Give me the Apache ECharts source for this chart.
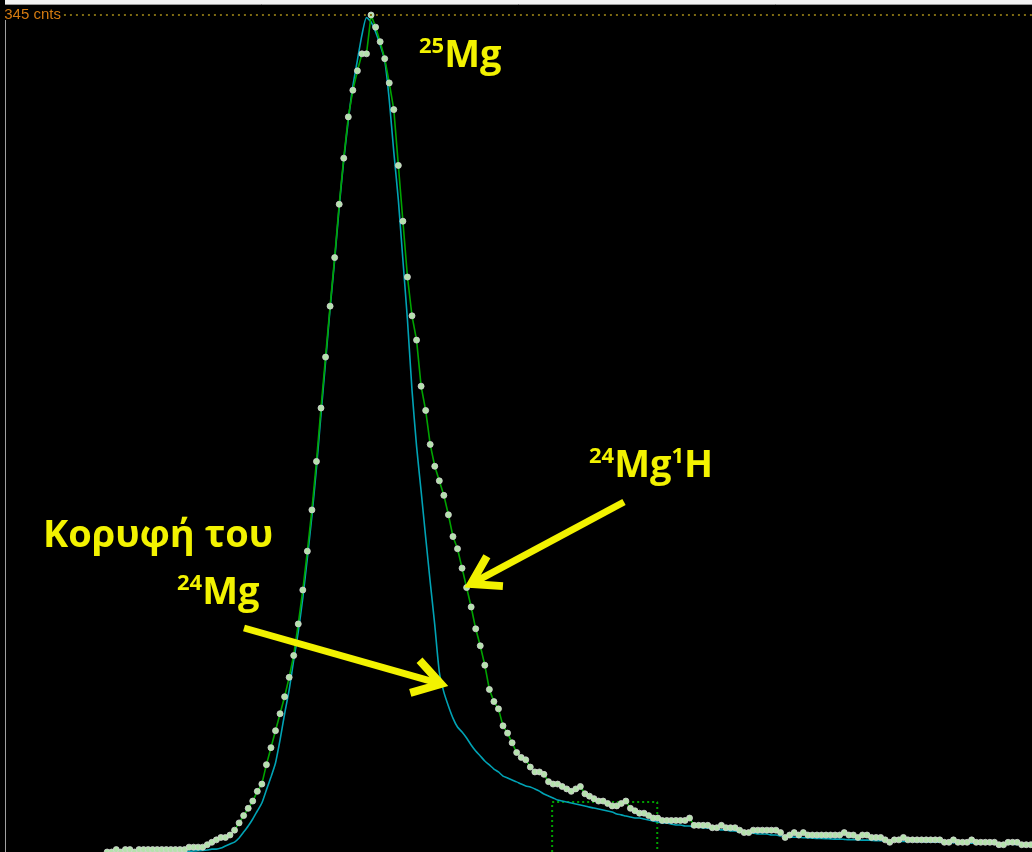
<!DOCTYPE html>
<html>
<head>
<meta charset="utf-8">
<script src="https://cdn.jsdelivr.net/npm/echarts@6/dist/echarts.min.js"></script>
<style>
  html, body { margin: 0; padding: 0; background: #000; }
  #chart { width: 1032px; height: 852px; }
</style>
</head>
<body>
<div id="chart"></div>
<script>
// Mass-spectrum scan around m/z 25: channel number on x, counts on y.

// 25Mg + 24Mg1H trace (measured points), first channel and counts per channel
const hydrideFirstChannel = 23;
const hydrideCounts = [
  0, 0, 1, 0, 1, 1, 0, 1, 1, 1, 1, 1, 1, 1, 1, 1, 1, 1,
  2, 2, 2, 2, 3, 4, 5, 6, 6, 7,
  9, 12, 15, 18, 21, 25, 28, 36, 43, 50,
  57, 64, 72, 81, 94, 108, 124, 141, 161, 183,
  204, 225, 245, 267, 286, 303, 314, 322, 329, 329,
  345, 340, 334, 327, 317, 306, 283, 260, 237, 221,
  211, 192, 182, 168, 159, 153, 147, 139, 130, 125,
  117, 109, 101, 92, 85, 77, 67, 62, 59, 52,
  49, 45, 41, 39, 38, 35, 33, 33, 32, 29,
  28, 28, 27, 26, 25, 26, 27, 24, 23, 22,
  21, 21, 20, 19, 19, 20, 21, 18, 17, 16,
  16, 15, 14, 14, 13, 13, 13, 13, 13, 13,
  14, 11, 11, 11, 11, 10, 10, 11, 10, 10,
  10, 9, 8, 8, 9, 9, 9, 9, 9, 9,
  8, 6, 7, 8, 7, 8, 7, 7, 7, 7,
  7, 7, 7, 7, 8, 7, 7, 6, 7, 7,
  6, 6, 6, 5, 4, 5, 5, 6, 5, 5,
  5, 5, 5, 5, 5, 5, 4, 4, 5, 4,
  4, 4, 5, 4, 4, 4, 4, 4, 3, 3,
  4, 4, 4, 3, 3, 3
];

// 24Mg reference peak shape (continuous trace)
const mg24FirstChannel = 38;
const mg24Counts = [
  0, 0.1, 0.2, 0.3, 0.4, 0.5, 0.6,
  0.8, 1.2, 1.2, 1.6, 2.5, 3.3,
  4.1, 5.8, 8.2, 10.7, 13.6, 16.9, 20.2, 25.6, 30.9, 36.7,
  46.2, 56.9, 66.8, 79.1, 90.7, 104.7, 121.2, 138.5, 158.3, 180.5,
  202.0, 224.2, 244.0, 265.9, 285.2, 301.7, 315.7, 326.4, 336.8, 344,
  342.1, 338.0, 332.6, 326.4, 310.0, 288.5, 268.7, 244.0, 219.3, 190.4,
  167.3, 148.8, 129.8, 111.3, 93.6, 74.2, 65.9, 60.2, 55.2, 51.5,
  49.5, 47.0, 44.1, 41.6, 39.6, 37.5, 35.9, 34.2, 33.0, 31.3,
  30.5, 29.7, 28.9, 28.0, 27.2, 26.8, 26.0, 25.1, 23.9, 23.1,
  22.3, 21.4, 21.0, 20.6, 20.2, 19.8, 19.4, 19.0, 18.5, 18.1,
  17.7, 17.3, 16.9, 16.5, 15.7, 15.3, 14.8, 14.4, 14.0, 14.0,
  13.6, 13.2, 12.8, 12.4, 12.0, 12.0, 11.5, 11.1, 11.1, 10.7,
  10.7, 10.3, 10.3, 9.9, 9.9, 9.5, 9.5, 9.1, 9.1, 8.7,
  8.7, 8.2, 8.2, 7.8, 7.8, 7.4, 7.4, 7.4, 7.0, 7.0,
  6.6, 6.6, 6.2, 6.1, 6.0, 5.9, 5.8, 5.7, 5.6, 5.6,
  5.5, 5.4, 5.3, 5.3, 5.2, 5.1, 5.1, 5.0, 4.9, 4.9,
  4.8, 4.7, 4.7, 4.6, 4.5, 4.5, 4.4, 4.4, 4.3, 4.3,
  4.2, 4.2, 4.1, 4.1, 4.0, 4.0, 3.9, 3.9, 3.8, 3.8,
  3.7, 3.7, 3.6, 3.6, 3.5, 3.5, 3.4, 3.4, 3.3, 3.3,
  3.2, 3.2, 3.1, 3.1, 3.0, 3.0
];

// Full-scale marker and integration window
const fullScaleCounts = 345;
const fullScaleLabel = '345 cnts';
const fullScaleStartChannel = 13.5;
const windowChannels = [120.8, 143.9];
const windowCounts = 20.6;

// Label texts: [text, superscript?]
const label25Mg = [['25', true], ['Mg', false]];
const labelHydride = [['24', true], ['Mg', false], ['1', true], ['H', false]];
const labelPeakLine1 = [['Κορυφή του', false]];
const labelPeakLine2 = [['24', true], ['Mg', false]];

const channelMin = -0.55;
const channelMax = 226.26;

const hydrideData = hydrideCounts.map((v, i) => [hydrideFirstChannel + i, v]);
const mg24Data = mg24Counts.map((v, i) => [mg24FirstChannel + i, v]);
const windowData = [
  [windowChannels[0], 0], [windowChannels[0], windowCounts],
  [windowChannels[1], windowCounts], [windowChannels[1], 0]
];

// ---- text helpers ----
const YELLOW = '#f2f200';
const FAMILY = '"Open Sans", "Noto Sans", sans-serif';
const MAIN = 38, SUP = 22;
const mctx = document.createElement('canvas').getContext('2d');
mctx.textBaseline = 'middle';
function measure(text, size) {
  mctx.font = 'bold ' + size + 'px ' + FAMILY;
  return mctx.measureText(text);
}
function textRun(x, capTop, parts) {
  const out = [];
  let cx = x;
  const mainAsc = measure('M', MAIN).actualBoundingBoxAscent;
  const supAsc = measure('2', SUP).actualBoundingBoxAscent;
  parts.forEach(([t, isSup]) => {
    const size = isSup ? SUP : MAIN;
    const y = isSup ? capTop - 2 + supAsc : capTop + mainAsc;
    out.push({
      type: 'text', silent: true, z: 100, x: cx, y: y,
      style: {
        text: t, fill: YELLOW, fontSize: size, fontWeight: 'bold',
        fontFamily: FAMILY, verticalAlign: 'middle', align: 'left'
      }
    });
    cx += measure(t, size).width;
  });
  return out;
}

// ---- arrows ----
function arrow(tail, tip) {
  const dx = tip[0] - tail[0], dy = tip[1] - tail[1];
  const L = Math.hypot(dx, dy);
  const ux = dx / L, uy = dy / L;
  const ang = 32 * Math.PI / 180, hl = 32;
  const wing = s => {
    const c = Math.cos(s * ang), sn = Math.sin(s * ang);
    const bx = -ux, by = -uy;
    return [tip[0] + hl * (bx * c - by * sn), tip[1] + hl * (bx * sn + by * c)];
  };
  const style = { stroke: YELLOW, lineWidth: 7, fill: null, lineJoin: 'miter', lineCap: 'butt' };
  return [
    { type: 'polyline', silent: true, z: 100, shape: { points: [tail, [tip[0] - ux * 4, tip[1] - uy * 4]] }, style: style },
    { type: 'polyline', silent: true, z: 100, shape: { points: [wing(1), tip, wing(-1)] }, style: Object.assign({}, style, { lineWidth: 8 }) }
  ];
}

const chart = echarts.init(document.getElementById('chart'));

const graphics = [
  // window frame edges
  { type: 'rect', silent: true, z: 90, shape: { x: 5, y: 0, width: 1027, height: 4 }, style: { fill: '#f2f2f2' } },
  { type: 'line', silent: true, z: 90, shape: { x1: 5, y1: 4.5, x2: 1032, y2: 4.5 }, style: { stroke: '#9a9a9a', lineWidth: 1 } },
  { type: 'line', silent: true, z: 90, shape: { x1: 5.5, y1: 20, x2: 5.5, y2: 852 }, style: { stroke: '#a0a0a0', lineWidth: 1 } }
]
  .concat(textRun(419, 40, label25Mg))
  .concat(textRun(589, 450, labelHydride))
  .concat(textRun(43, 520, labelPeakLine1))
  .concat(textRun(177, 577, labelPeakLine2))
  .concat(arrow([624, 502], [471, 584]))
  .concat(arrow([244, 628], [441, 684]));

chart.setOption({
  backgroundColor: '#000',
  animation: false,
  grid: { left: 0, right: 0, top: 15, bottom: 0 },
  xAxis: { type: 'value', min: channelMin, max: channelMax, show: false },
  yAxis: { type: 'value', min: 0, max: fullScaleCounts, show: false },
  series: [
    {
      type: 'line', name: 'window', data: windowData, symbol: 'none', silent: true, z: 1,
      lineStyle: { color: '#00a000', width: 2, type: [2, 3] }
    },
    {
      type: 'line', name: '24Mg', data: mg24Data, symbol: 'none', smooth: 0.2, clip: false, z: 2,
      lineStyle: { color: '#00a3b5', width: 1.6 }
    },
    {
      type: 'line', name: '25Mg + 24Mg1H', data: hydrideData, clip: false, z: 3,
      symbol: 'circle', symbolSize: 6, showAllSymbol: true,
      lineStyle: { color: '#00a400', width: 1.6 },
      itemStyle: { color: '#b4e2ac', borderColor: '#d4d4d4', borderWidth: 0.8 },
      markLine: {
        silent: true, symbol: 'none',
        lineStyle: { color: '#7d6a12', width: 2, type: [2, 4] },
        label: {
          position: 'start', formatter: fullScaleLabel, color: '#d47a10',
          fontSize: 15, fontFamily: '"Liberation Sans", Arial, sans-serif', distance: 3
        },
        data: [[{ coord: [fullScaleStartChannel, fullScaleCounts] }, { coord: [channelMax, fullScaleCounts] }]]
      }
    }
  ],
  graphic: graphics
});
</script>
</body>
</html>
